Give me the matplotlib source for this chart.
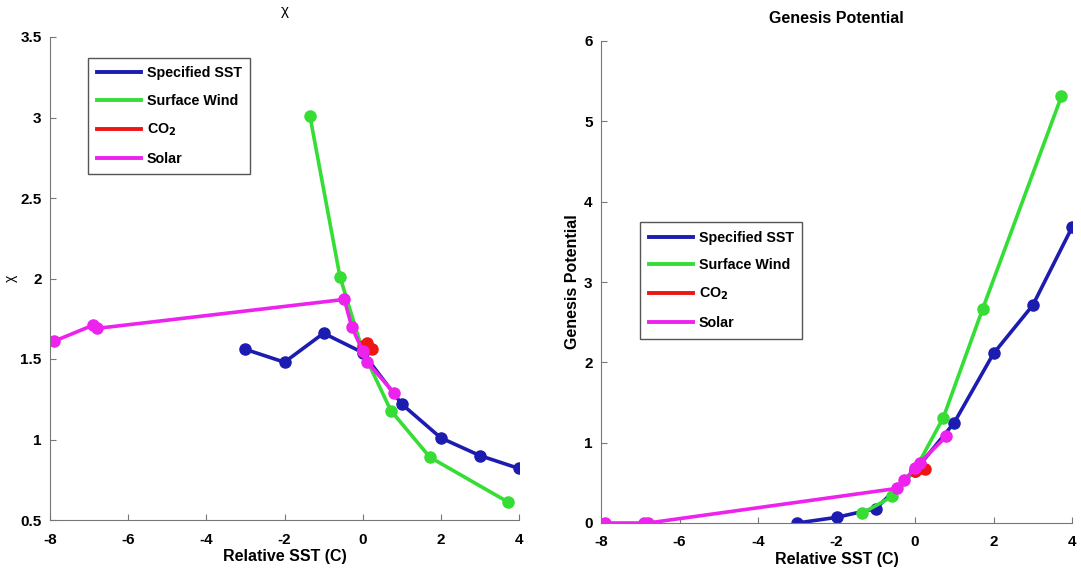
import matplotlib
matplotlib.use("Agg")
import matplotlib.pyplot as plt
from matplotlib.lines import Line2D

# relative SST (C) for each experiment
sst_specified = [-3, -2, -1, 0, 1, 2, 3, 4]
sst_wind = [-1.35, -0.58, 0.0, 0.72, 1.72, 3.73]
sst_co2 = [0.0, 0.12, 0.25]
sst_solar = [-7.9, -6.9, -6.8, -0.47, -0.28, 0.0, 0.12, 0.8]

# chi
chi_specified = [1.56, 1.48, 1.66, 1.54, 1.22, 1.01, 0.90, 0.82]
chi_wind = [3.01, 2.01, 1.55, 1.18, 0.89, 0.61]
chi_co2 = [1.58, 1.60, 1.56]
chi_solar = [1.61, 1.71, 1.69, 1.87, 1.70, 1.55, 1.48, 1.29]

# genesis potential
gp_specified = [0.0, 0.07, 0.18, 0.65, 1.25, 2.11, 2.71, 3.68]
gp_wind = [0.12, 0.33, 0.66, 1.31, 2.66, 5.31]
gp_co2 = [0.65, 0.68, 0.67]
gp_solar = [0.0, 0.0, 0.0, 0.43, 0.53, 0.68, 0.75, 1.08]

labels = ["Specified SST", "Surface Wind", r"CO$_\mathbf{2}$", "Solar"]
colors = ["#1c1cb0", "#35dd35", "#ee1515", "#ee22ee"]

plt.rcParams["font.family"] = ["Liberation Sans", "DejaVu Sans"]
plt.rcParams["axes.unicode_minus"] = False

fig = plt.figure(figsize=(10.81, 5.76), dpi=100)
ax1 = fig.add_axes([50/1081, 1-520/576, 469/1081, 483/576])
ax2 = fig.add_axes([601/1081, 1-523/576, 471/1081, 482/576])

def draw(ax, ys, anchor):
    xs = [sst_specified, sst_wind, sst_co2, sst_solar]
    for x, y, c in zip(xs, ys, colors):
        ax.plot(x, y, "-o", color=c, lw=2.6, ms=8)
    for s in ["top", "right"]:
        ax.spines[s].set_visible(False)
    for s in ["left", "bottom"]:
        ax.spines[s].set_color("#777777")
    ax.tick_params(direction="in", length=4, color="#777777", labelsize=11)
    ax.tick_params(axis="x", pad=9)
    ax.tick_params(axis="y", pad=6)
    ax.set_xlim(-8, 4)
    ax.set_xticks([-8, -6, -4, -2, 0, 2, 4])
    ax.set_xlabel("Relative SST (C)", fontsize=11.5, fontweight="bold", labelpad=2)
    # legend shows plain lines only
    handles = [Line2D([], [], color=c, lw=2.8) for c in colors]
    ax.legend(handles, labels, loc="upper left", bbox_to_anchor=anchor,
              prop={"weight": "bold", "size": 10.3}, fancybox=False,
              edgecolor="#555555", handlelength=3.1, borderpad=0.6,
              labelspacing=0.95, handletextpad=0.4, borderaxespad=0,
              framealpha=1)

draw(ax1, [chi_specified, chi_wind, chi_co2, chi_solar], (0.081, 0.957))
ax1.set_ylim(0.5, 3.5)
ax1.set_yticks([0.5, 1, 1.5, 2, 2.5, 3, 3.5])
ax1.set_yticklabels(["0.5", "1", "1.5", "2", "2.5", "3", "3.5"])
ax1.set_ylabel("χ", fontsize=10, labelpad=2)
ax1.set_title("χ", fontsize=11, pad=16)

draw(ax2, [gp_specified, gp_wind, gp_co2, gp_solar], (0.083, 0.624))
ax2.set_ylim(0, 6)
ax2.set_yticks(range(7))
ax2.set_ylabel("Genesis Potential", fontsize=11.5, fontweight="bold", labelpad=3)
ax2.set_title("Genesis Potential", fontsize=11.5, fontweight="bold", pad=13)

for ax in (ax1, ax2):
    for t in ax.get_xticklabels() + ax.get_yticklabels():
        t.set_fontweight("bold")

fig.savefig("out.png", dpi=100)
